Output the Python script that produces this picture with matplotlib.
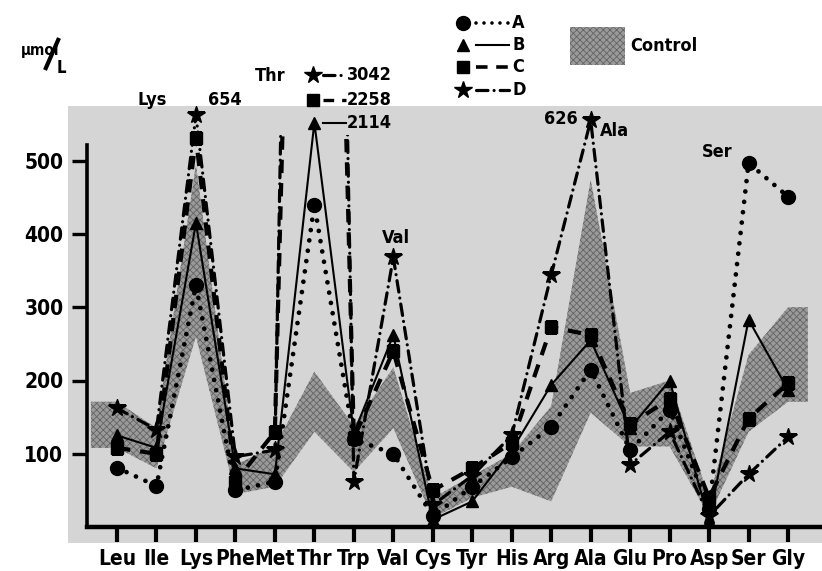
import numpy as np
import matplotlib
matplotlib.use("Agg")
import matplotlib.pyplot as plt
from matplotlib.patches import Rectangle, PathPatch
from matplotlib.path import Path

# ---------------- data (µmol/L) ----------------
amino = ["Leu", "Ile", "Lys", "Phe", "Met", "Thr", "Trp", "Val", "Cys",
         "Tyr", "His", "Arg", "Ala", "Glu", "Pro", "Asp", "Ser", "Gly"]
series_a = [81, 56, 330, 50, 62, 440, 120, 100, 15, 55, 95, 137, 215, 105, 160, 25, 497, 451]
series_b = [125, 108, 415, 80, 72, 2114, 128, 262, 10, 35, 105, 194, 255, 135, 200, 8, 283, 187]
series_c = [108, 100, 535, 62, 130, 2258, 122, 240, 50, 80, 115, 273, 262, 140, 175, 40, 148, 196]
series_d = [162, 133, 654, 96, 105, 3042, 62, 368, 30, 70, 125, 344, 626, 85, 130, 15, 72, 123]
control_low = [108, 80, 260, 45, 55, 130, 75, 135, 12, 40, 55, 35, 156, 110, 110, 15, 130, 171]
control_high = [171, 135, 495, 85, 110, 212, 138, 218, 40, 70, 100, 165, 474, 183, 200, 40, 235, 300]
y_ticks = [100, 200, 300, 400, 500]

# ---------------- display helpers ----------------
BREAK, SQUEEZE, OFFSCALE = 530, 0.26, 1000   # values above BREAK drawn compressed


def shown(vals, off_level=None):
    v = np.asarray(vals, float)
    out = np.where(v <= BREAK, v, BREAK + (v - BREAK) * SQUEEZE)
    out = np.where(v > OFFSCALE, v if off_level is None else off_level, out)
    return out


plt.rcParams["font.family"] = ["DejaVu Sans"]
plt.rcParams["font.stretch"] = "condensed"
plt.rcParams["font.weight"] = "bold"
plt.rcParams["hatch.linewidth"] = 0.6

W, H = 822, 571
fig = plt.figure(figsize=(W / 100, H / 100), dpi=100)
fig.patch.set_facecolor("white")

# overlay in pixel coordinates (under the data axes)
bg = fig.add_axes([0, 0, 1, 1], zorder=0)
bg.set_xlim(0, W)
bg.set_ylim(H, 0)
bg.axis("off")
bg.add_patch(Rectangle((68, 106), W - 68, 437, color="#d5d5d5", lw=0))

# data axes
ax = fig.add_axes([87 / W, 44 / H, 735 / W, 439.5 / H], zorder=1)
ax.patch.set_alpha(0)
x = np.arange(len(amino))
ax.set_xlim(-0.76, 17.86)
ax.set_ylim(0, 600)

ax.fill_between(np.r_[-0.66, x, 17.5], np.r_[control_low[0], control_low, control_low[-1]],
                np.r_[control_high[0], control_high, control_high[-1]],
                facecolor="#9a9a9a", edgecolor="#646464", hatch="xxxxx", lw=0, zorder=1)

clip_verts = [(-1, -10), (19, -10), (19, 5000), (6.5, 5000), (6.5, 535),
              (3.5, 535), (3.5, 5000), (-1, 5000), (-1, -10)]
clip_patch = PathPatch(Path(clip_verts), transform=ax.transData, fc="none", ec="none")
ax.add_patch(clip_patch)
clip_patch.set_visible(False)

styles = {
    "A": dict(marker="o", ms=10, ls=(0, (0.01, 2.2)), lw=3.4, dash_capstyle="round"),
    "B": dict(marker="^", ms=9, ls="-", lw=1.5),
    "C": dict(marker="s", ms=9, ls=(0, (3.2, 2.4)), lw=3.0),
    "D": dict(marker="*", ms=13, ls=(0, (3.6, 1.9, 0.01, 1.9)), lw=2.3, dash_capstyle="round"),
}

la, = ax.plot(x, shown(series_a), color="black", zorder=5, **styles["A"])
lb, = ax.plot(x, shown(series_b, off_level=552), color="black", zorder=4, **styles["B"])
lc, = ax.plot(x, shown(series_c), color="black", zorder=3, **styles["C"])
ld, = ax.plot(x, shown(series_d), color="black", zorder=3, **styles["D"])
for ln in (lc, ld):
    ln.set_clip_path(clip_patch)

for sp in ("top", "right"):
    ax.spines[sp].set_visible(False)
ax.spines["left"].set_linewidth(2.6)
ax.spines["left"].set_bounds(0, 521)
ax.spines["bottom"].set_linewidth(3.2)
ax.set_yticks(y_ticks)
ax.set_yticklabels([str(t) for t in y_ticks])
ax.set_xticks(x)
ax.set_xticklabels(amino)
ax.tick_params(axis="y", direction="out", length=11, width=2.4, labelsize=15, pad=6)
ax.tick_params(axis="x", direction="out", length=11, width=3.0, labelsize=15, pad=5)
for t in ax.get_xticklabels() + ax.get_yticklabels():
    t.set_fontweight("bold")
    t.set_fontstretch("condensed")

# ---------------- annotations ----------------
tk = dict(fontsize=13, fontweight="bold", color="black", fontstretch="condensed")
bg.text(21, 50, "µmol", fontsize=11, fontweight="bold", fontstretch="condensed",
        va="center", ha="left")
bg.plot([45, 59], [70, 38], color="black", lw=3, solid_capstyle="butt")
bg.text(57, 68, "L", fontsize=12, fontweight="bold", va="center", ha="left")

bg.text(152, 100, "Lys", ha="center", va="center", **tk)
bg.text(208, 100, "654", ha="left", va="center", **tk)
bg.text(578, 119, "626", ha="right", va="center", **tk)
bg.text(600, 131, "Ala", ha="left", va="center", **tk)
bg.text(396, 238, "Val", ha="center", va="center", **tk)
bg.text(717, 152, "Ser", ha="center", va="center", **tk)

# Thr off-scale stack
bg.text(270, 76, "Thr", ha="center", va="center", **tk)
stack = [("D", 75, "3042"), ("C", 100, "2258"), ("B", 123, "2114")]
for key, yy, lab in stack:
    st = styles[key]
    bg.plot([323, 346], [yy, yy], color="black", lw=min(st["lw"], 2.4), ls=st["ls"],
            dash_capstyle=st.get("dash_capstyle", "butt"))
    if key != "B":
        bg.plot([313], [yy], marker=st["marker"], ms=st["ms"], color="black", ls="none")
    bg.text(347, yy, lab, ha="left", va="center", **tk)

# legend
legend_rows = [("A", 23), ("B", 45), ("C", 67), ("D", 90)]
for key, yy in legend_rows:
    st = styles[key]
    bg.plot([463], [yy], marker=st["marker"], ms=st["ms"], color="black", ls="none")
    bg.plot([476, 509], [yy, yy], color="black", lw=min(st["lw"], 2.6), ls=st["ls"],
            dash_capstyle=st.get("dash_capstyle", "butt"))
    bg.text(512, yy, key, ha="left", va="center", **tk)
bg.add_patch(Rectangle((570, 27), 55, 38, facecolor="#9a9a9a", edgecolor="#646464",
                       hatch="xxxxx", lw=0))
bg.text(630, 46, "Control", ha="left", va="center", **tk)

fig.savefig("out.png", dpi=100)
